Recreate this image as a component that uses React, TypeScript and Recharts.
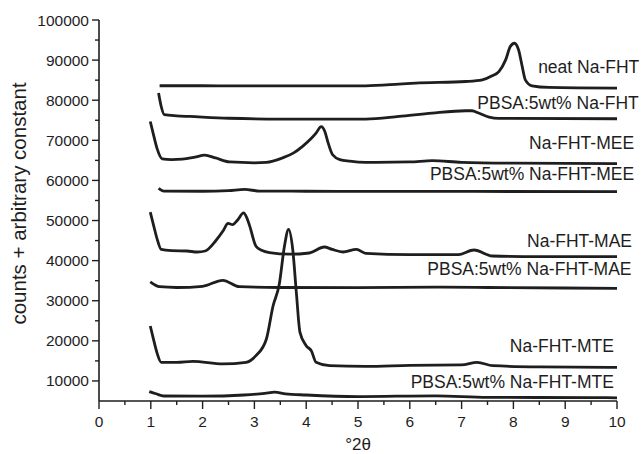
import { LineChart, Line, XAxis, YAxis, ReferenceDot } from 'recharts'

// each series: [2θ, counts + offset]
const neatNaFHT = [
  [1.17, 83600], [2, 83600], [3, 83550], [4, 83550], [5.15, 83590], [5.79, 84000],
  [6.11, 84250], [7.08, 84670], [7.4, 85080], [7.59, 86080], [7.72, 87150], [7.85, 90050],
  [7.94, 93370], [8.02, 94200], [8.1, 92540], [8.17, 88400], [8.23, 85080], [8.36, 83590],
  [8.68, 83180], [10, 83010]
]
const pbsaNaFHT = [
  [1.15, 81800], [1.2, 78500], [1.26, 76400], [1.5, 76100], [1.75, 75950], [2.5, 75500],
  [3.5, 75300], [5.15, 75300], [5.79, 75960], [6.43, 76800], [7.08, 77370], [7.2, 77370],
  [7.33, 76800], [7.53, 75800], [7.72, 75460], [10, 75380]
]
const naFHTMEE = [
  [0.99, 74700], [1.05, 71500], [1.12, 68000], [1.22, 65400], [1.4, 65200], [1.61, 65300],
  [1.85, 65800], [2.04, 66300], [2.25, 65600], [2.52, 64600], [3.0, 64400], [3.23, 64500],
  [3.54, 65600], [3.75, 66800], [3.93, 68500], [4.1, 70500], [4.19, 71800], [4.29, 73400],
  [4.36, 72200], [4.42, 69500], [4.51, 66400], [4.65, 65200], [4.84, 64800], [5.15, 64500],
  [6.0, 64600], [6.43, 64950], [7.0, 64500], [8, 64300], [10, 64200]
]
const pbsaNaFHTMEE = [
  [1.15, 58000], [1.25, 57350], [2.0, 57300], [2.5, 57450], [2.81, 57750], [3.1, 57350],
  [4, 57300], [5, 57250], [7, 57250], [10, 57200]
]
const naFHTMAE = [
  [0.99, 52100], [1.05, 49000], [1.12, 45500], [1.2, 42800], [1.4, 42500], [1.7, 42400],
  [1.9, 42150], [2.05, 42400], [2.25, 44900], [2.4, 47500], [2.49, 49300], [2.58, 49000],
  [2.68, 50200], [2.79, 51900], [2.85, 50800], [2.91, 48600], [3.03, 43600], [3.15, 42500],
  [3.29, 42000], [3.68, 41600], [4.06, 41900], [4.35, 43400], [4.5, 42800], [4.71, 42150],
  [4.97, 42800], [5.15, 41800], [6.0, 41500], [6.94, 41500], [7.24, 42650], [7.59, 41150],
  [8.5, 41000], [10, 41000]
]
const pbsaNaFHTMAE = [
  [0.99, 34700], [1.17, 33500], [1.5, 33300], [2.0, 33600], [2.39, 35100], [2.71, 33500],
  [3.5, 33300], [5, 33250], [6.5, 33400], [7.5, 33300], [10, 33100]
]
const naFHTMTE = [
  [0.99, 23700], [1.05, 20500], [1.12, 17000], [1.2, 14650], [1.5, 14650], [1.81, 14900],
  [2.39, 14250], [2.84, 14650], [3.03, 16300], [3.23, 20400], [3.36, 28700], [3.48, 34100],
  [3.58, 43600], [3.66, 47800], [3.74, 42800], [3.81, 32000], [3.88, 22100], [4.0, 18800],
  [4.1, 17500], [4.19, 14650], [4.45, 13800], [5.15, 13650], [6.0, 13900], [7.0, 14000],
  [7.3, 14650], [7.6, 13800], [8.5, 13500], [10, 13400]
]
const pbsaNaFHTMTE = [
  [0.97, 7350], [1.1, 6800], [1.25, 6250], [2, 6200], [2.8, 6500], [3.2, 6900],
  [3.39, 7200], [3.6, 6800], [4, 6500], [5, 6100], [6.5, 6300], [7.5, 5900],
  [9.5, 5850], [10, 5800]
]

const seriesNames = [
  'neat Na-FHT', 'PBSA:5wt% Na-FHT', 'Na-FHT-MEE', 'PBSA:5wt% Na-FHT-MEE',
  'Na-FHT-MAE', 'PBSA:5wt% Na-FHT-MAE', 'Na-FHT-MTE', 'PBSA:5wt% Na-FHT-MTE'
]
const seriesData = [
  neatNaFHT, pbsaNaFHT, naFHTMEE, pbsaNaFHTMEE,
  naFHTMAE, pbsaNaFHTMAE, naFHTMTE, pbsaNaFHTMTE
]
// where each name sits (right end, middle), in data units
const labelX = [10.43, 10.42, 10.33, 10.33, 10.29, 10.28, 9.94, 9.94]
const labelY = [88390, 79290, 69340, 61640, 44880, 37840, 18770, 9820]

const xTicks = [0, 0.5, 1, 1.5, 2, 2.5, 3, 3.5, 4, 4.5, 5, 5.5, 6, 6.5, 7, 7.5, 8, 8.5, 9, 9.5, 10]
const yTicks = [
  10000, 15000, 20000, 25000, 30000, 35000, 40000, 45000, 50000, 55000,
  60000, 65000, 70000, 75000, 80000, 85000, 90000, 95000, 100000
]

const ink = '#1e1e1e'
const font = '"Liberation Sans", Arial, sans-serif'

function XTick({ x, y, payload }: any) {
  const major = Number.isInteger(payload.value)
  return (
    <g>
      <line x1={x} x2={x} y1={y} y2={y + (major ? 8 : 4)} stroke={ink} strokeWidth={1.4} />
      {major && (
        <text x={x} y={y + 20} textAnchor="middle" dominantBaseline="central" fontSize={15.5} fill={ink} fontFamily={font}>
          {payload.value}
        </text>
      )}
    </g>
  )
}

function YTick({ x, y, payload }: any) {
  const major = payload.value % 10000 === 0
  return (
    <g>
      <line x1={x - (major ? 7 : 4)} x2={x} y1={y} y2={y} stroke={ink} strokeWidth={1.4} />
      {major && (
        <text x={x - 10} y={y} textAnchor="end" dominantBaseline="central" fontSize={15.5} fill={ink} fontFamily={font}>
          {payload.value}
        </text>
      )}
    </g>
  )
}

export default function App() {
  return (
    <div style={{ width: 642, height: 454, background: '#fff' }}>
      <style>{'body{margin:0}'}</style>
      <LineChart width={642} height={454} margin={{ top: 20, right: 25, left: 0, bottom: 0 }}>
        <XAxis
          type="number"
          dataKey="t"
          domain={[0, 10]}
          ticks={xTicks}
          interval={0}
          height={53}
          tickSize={0}
          tickMargin={0}
          tickLine={false}
          tick={<XTick />}
          axisLine={{ stroke: ink, strokeWidth: 1.6 }}
          allowDataOverflow
          label={{
            content: ({ viewBox }: any) => (
              <text x={viewBox.x + viewBox.width / 2} y={viewBox.y + 43} textAnchor="middle" dominantBaseline="central" fontSize={17} fill={ink} fontFamily={font}>
                °2θ
              </text>
            )
          }}
        />
        <YAxis
          type="number"
          domain={[5000, 100000]}
          ticks={yTicks}
          interval={0}
          width={99}
          tickSize={0}
          tickMargin={0}
          tickLine={false}
          tick={<YTick />}
          axisLine={{ stroke: ink, strokeWidth: 1.6 }}
          allowDataOverflow
          label={{
            content: ({ viewBox }: any) => (
              <text
                x={18}
                y={viewBox.y + viewBox.height / 2 - 7}
                transform={`rotate(-90, 18, ${viewBox.y + viewBox.height / 2 - 7})`}
                textAnchor="middle"
                dominantBaseline="central"
                fontSize={20.5}
                fill={ink}
                fontFamily={font}
              >
                counts + arbitrary constant
              </text>
            )
          }}
        />
        {seriesData.map((s, i) => (
          <Line
            key={seriesNames[i]}
            data={s.map(([t, v]) => ({ t, v }))}
            dataKey="v"
            type="monotone"
            stroke={ink}
            strokeWidth={2.8}
            dot={false}
            activeDot={false}
            isAnimationActive={false}
          />
        ))}
        {seriesNames.map((name, i) => (
          <ReferenceDot
            key={'lbl' + name}
            x={labelX[i]}
            y={labelY[i]}
            r={0}
            ifOverflow="visible"
            label={{
              content: ({ viewBox }: any) => (
                <text x={viewBox.x} y={viewBox.y} textAnchor="end" dominantBaseline="central" fontSize={17.5} fill={ink} fontFamily={font}>
                  {name}
                </text>
              )
            }}
          />
        ))}
      </LineChart>
    </div>
  )
}
